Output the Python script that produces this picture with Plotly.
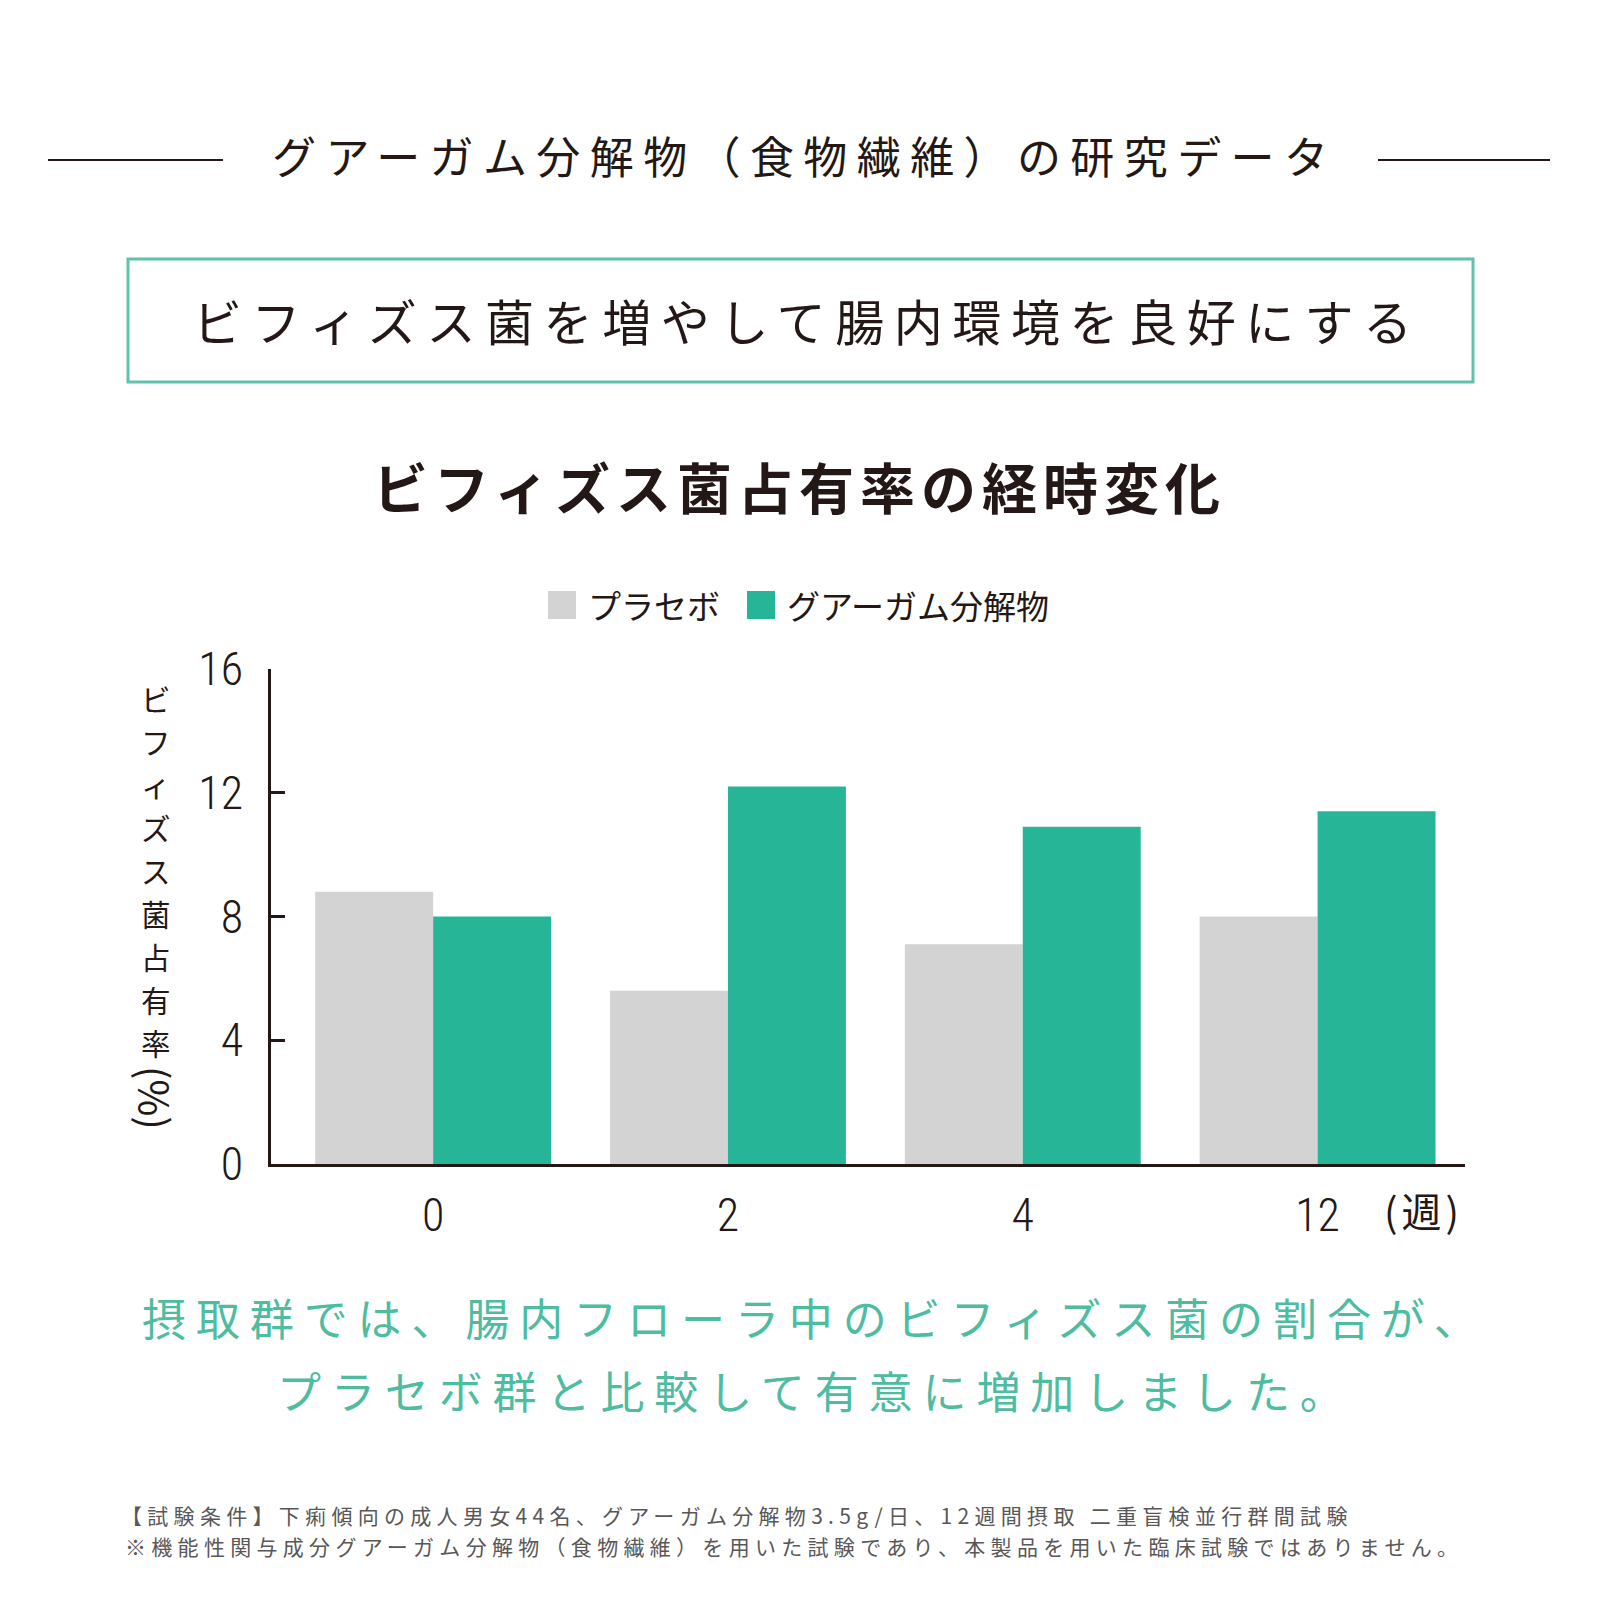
import plotly.graph_objects as go

# ---------------- data ----------------
weeks = ["0", "2", "4", "12"]
placebo = [8.8, 5.6, 7.1, 8.0]
guar = [8.0, 12.2, 10.9, 11.4]
series_names = ["プラセボ", "グアーガム分解物"]
yticks = [0, 4, 8, 12, 16]

heading = "グアーガム分解物（食物繊維）の研究データ"
box_text = "ビフィズス菌を増やして腸内環境を良好にする"
chart_title = "ビフィズス菌占有率の経時変化"
y_title_main = "ビフィズス菌占有率"
y_title_unit = "(%)"
x_unit = "(週)"
summary_lines = ["摂取群では、腸内フローラ中のビフィズス菌の割合が、",
                 "プラセボ群と比較して有意に増加しました。"]
notes = ["【試験条件】下痢傾向の成人男女44名、グアーガム分解物3.5g/日、12週間摂取 二重盲検並行群間試験",
         "※機能性関与成分グアーガム分解物（食物繊維）を用いた試験であり、本製品を用いた臨床試験ではありません。"]

# ---------------- style ----------------
W = H = 1600
ML, MR, MT, MB = 263, 143, 661, 444
PW = W - ML - MR
PH = H - MT - MB

INK = "#231815"
TEAL = "#27b597"
GRAY = "#d3d3d3"
TEAL_TEXT = "#4dbc9f"
BOX = "#5ec2ad"
NOTE = "#595757"
JP = "Noto Sans CJK JP"
NUM = "Roboto Condensed, Roboto, Noto Sans CJK JP"


def px(x):
    return (x - ML) / PW


def py(y):
    return (H - MB - y) / PH


def spaced(text, ls):
    return f'<span style="letter-spacing:{ls}px">{text}</span>'


fig = go.Figure()
fig.add_trace(go.Bar(x=weeks, y=placebo, name=series_names[0],
                     marker=dict(color=GRAY, line=dict(width=0))))
fig.add_trace(go.Bar(x=weeks, y=guar, name=series_names[1],
                     marker=dict(color=TEAL, line=dict(width=0))))

annotations = []
shapes = []


def text_at(x, y, text, size, color=INK, family=JP, xanchor="center", angle=0):
    annotations.append(dict(x=px(x), y=py(y), xref="paper", yref="paper",
                            text=text, showarrow=False, xanchor=xanchor,
                            yanchor="middle", textangle=angle,
                            align="left" if xanchor == "left" else "center",
                            font=dict(size=size, color=color, family=family)))


# heading with side rules
text_at(796, 147, spaced(heading, 9.4), 44)
shapes.append(dict(type="line", xref="paper", yref="paper",
                   x0=px(40), x1=px(215), y0=py(152), y1=py(152),
                   line=dict(color=INK, width=2)))
shapes.append(dict(type="line", xref="paper", yref="paper",
                   x0=px(1370), x1=px(1542), y0=py(152), y1=py(152),
                   line=dict(color=INK, width=2)))

# boxed subtitle
shapes.append(dict(type="rect", xref="paper", yref="paper",
                   x0=px(120), x1=px(1465), y0=py(251), y1=py(374),
                   line=dict(color=BOX, width=3), fillcolor="rgba(0,0,0,0)"))
text_at(799, 311, spaced(box_text, 9.6), 49)

# chart title
text_at(791, 477, spaced(f"<b>{chart_title}</b>", 6), 55)

# legend (manual)
legend_items = [(540, GRAY, series_names[0]), (739, TEAL, series_names[1])]
for x0, col, name in legend_items:
    shapes.append(dict(type="rect", xref="paper", yref="paper",
                       x0=px(x0), x1=px(x0 + 28), y0=py(583), y1=py(611),
                       line=dict(width=0), fillcolor=col))
    text_at(x0 + 38, 597, name, 33, xanchor="left")

# vertical y-axis title (one upright character per line)
for i, ch in enumerate(y_title_main):
    text_at(148, 690 + 43 * i, ch, 29.5)
text_at(148, 1090, y_title_unit, 40, angle=90)

# x unit
text_at(1415, 1202, spaced(x_unit, 4), 40)

# summary (teal)
text_at(806.5, 1309, spaced(summary_lines[0], 9.9), 44, color=TEAL_TEXT)
text_at(807, 1382, spaced(summary_lines[1], 9.9), 44, color=TEAL_TEXT)

# notes
text_at(111, 1507, spaced(notes[0], 5.3), 21, color=NOTE, xanchor="left")
text_at(115, 1538, spaced(notes[1], 5.3), 21, color=NOTE, xanchor="left")

fig.update_layout(
    width=W, height=H,
    margin=dict(l=ML, r=MR, t=MT, b=MB, pad=0),
    paper_bgcolor="white", plot_bgcolor="white",
    barmode="group", bargap=0.2, bargroupgap=0,
    showlegend=False,
    annotations=annotations, shapes=shapes,
    font=dict(family=JP, color=INK),
)
fig.update_xaxes(type="category", range=[-0.55, 3.5], showline=True,
                 linecolor=INK, linewidth=2.5, ticks="", showgrid=False,
                 zeroline=False,
                 tickfont=dict(size=46, family=NUM, color=INK, weight=300),
                 ticklabelstandoff=9)
fig.update_yaxes(range=[0, 16], tickvals=yticks, showline=True,
                 linecolor=INK, linewidth=2.5, ticks="inside", ticklen=14,
                 tickwidth=2.5, tickcolor=INK, showgrid=False, zeroline=False,
                 tickfont=dict(size=46, family=NUM, color=INK, weight=300),
                 ticklabelstandoff=16)

fig.write_html("out.html")
